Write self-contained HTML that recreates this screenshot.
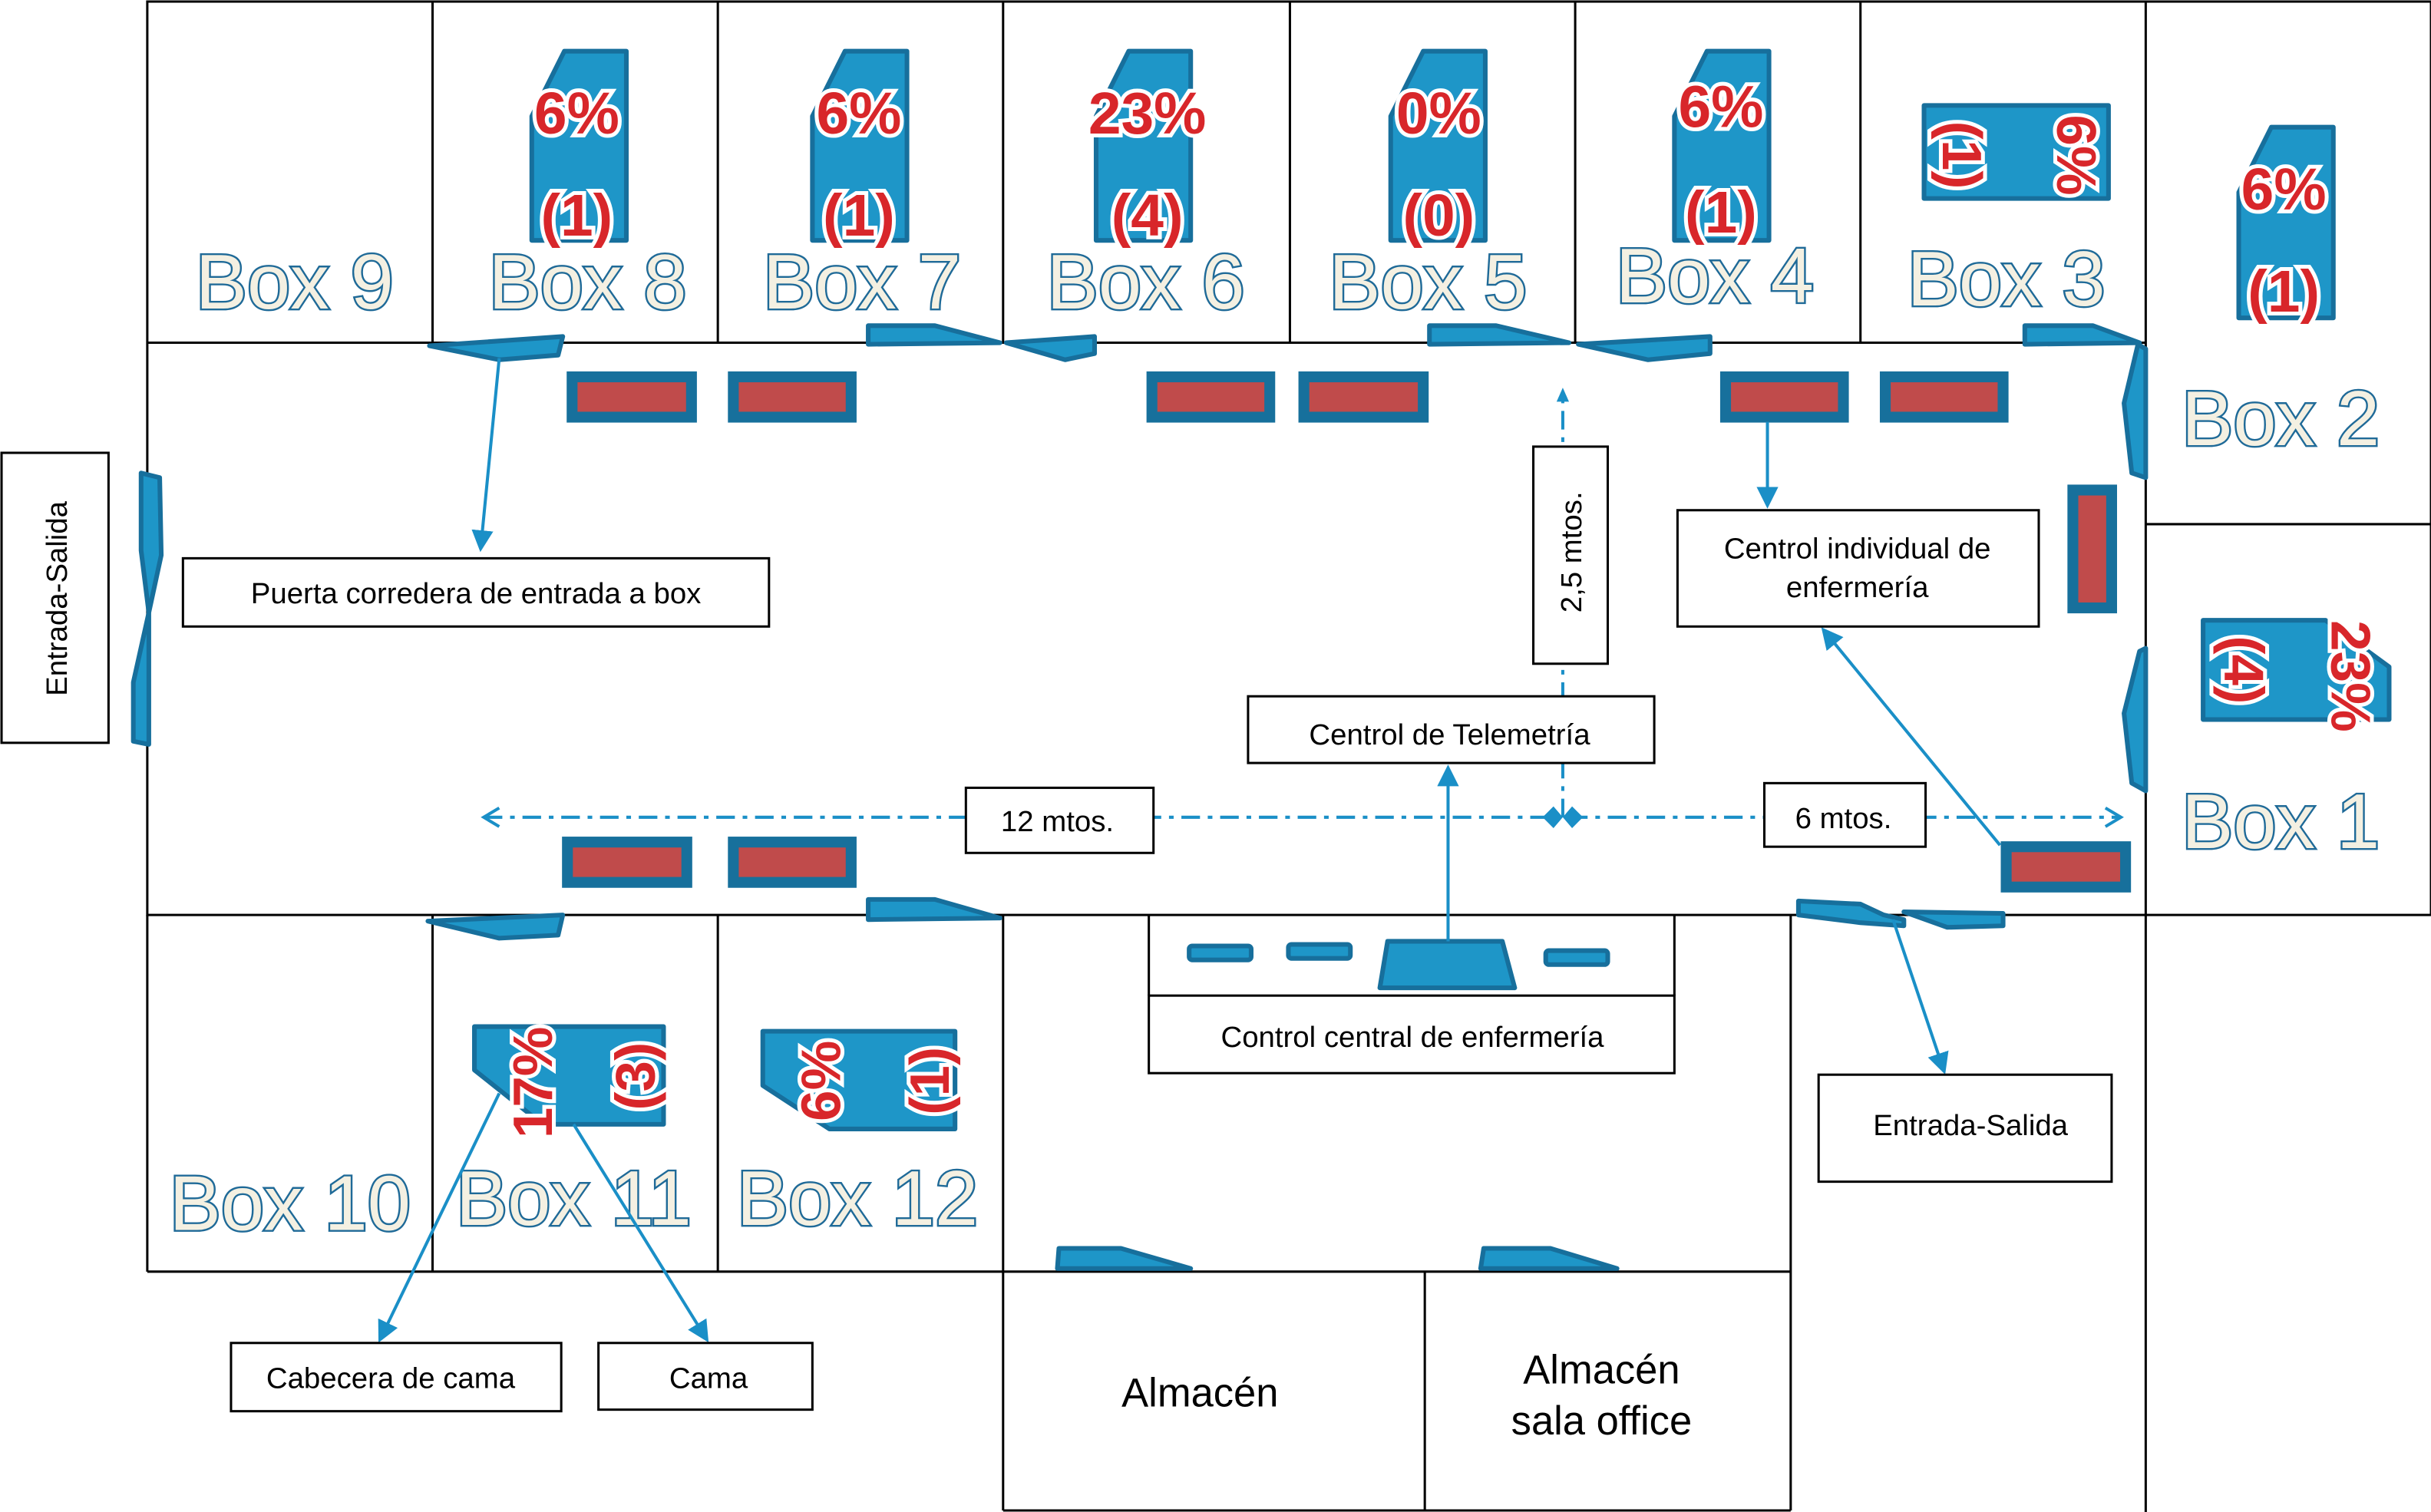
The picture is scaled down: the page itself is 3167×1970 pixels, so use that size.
<!DOCTYPE html>
<html><head><meta charset="utf-8"><style>
html,body{margin:0;padding:0;background:#fff;}
svg{display:block;}
.bx{font-family:"Liberation Sans Narrow","Liberation Sans",sans-serif;font-size:50px;fill:#f4f0e2;stroke:#1f6a98;stroke-width:2.4px;paint-order:stroke;text-anchor:middle;}
.pc{font-family:"Liberation Sans",sans-serif;font-weight:bold;font-size:38px;fill:#d8262a;stroke:#fff;stroke-width:5px;paint-order:stroke;text-anchor:middle;}
.lb{font-family:"Liberation Sans",sans-serif;font-size:19px;fill:#000;text-anchor:middle;}
.bed{fill:#1e96c8;stroke:#176f9c;stroke-width:3;stroke-linejoin:round;}
.door{fill:#1e96c8;stroke:#176f9c;stroke-width:3;stroke-linejoin:round;}
.mon{fill:#c04b4b;stroke:#17709c;stroke-width:7;}
.ln{stroke:#000;stroke-width:1.5;fill:none;}
.ar{stroke:#1a8fc7;stroke-width:2;fill:none;}
</style></head><body>
<svg width="3167" height="1970" viewBox="0 0 1568 975" preserveAspectRatio="none" xmlns="http://www.w3.org/2000/svg">
<defs><marker id="ah" markerWidth="10" markerHeight="10" refX="8" refY="5" orient="auto" markerUnits="userSpaceOnUse" viewBox="0 0 10 10"><path d="M0,0 L10,5 L0,10 Z" fill="#1a8fc7"/></marker>
<marker id="ah2" markerWidth="14" markerHeight="14" refX="12" refY="7" orient="auto" markerUnits="userSpaceOnUse"><path d="M0,0 L14,7 L0,14 Z" fill="#1a8fc7"/></marker>
<marker id="ao" markerWidth="12" markerHeight="12" refX="10" refY="6" orient="auto" markerUnits="userSpaceOnUse"><path d="M0,0 L10,6 L0,12" stroke="#1a8fc7" stroke-width="2" fill="none"/></marker></defs>

<g class="ln">
<rect x="95" y="1" width="1473" height="589"/>
<line x1="95" y1="221" x2="1384" y2="221"/>
<line x1="279" y1="1" x2="279" y2="221"/><line x1="463" y1="1" x2="463" y2="221"/><line x1="647" y1="1" x2="647" y2="221"/><line x1="832" y1="1" x2="832" y2="221"/><line x1="1016" y1="1" x2="1016" y2="221"/><line x1="1200" y1="1" x2="1200" y2="221"/>
<line x1="1384" y1="1" x2="1384" y2="975"/>
<line x1="1384" y1="338" x2="1568" y2="338"/>
<line x1="95" y1="590" x2="95" y2="820"/><line x1="279" y1="590" x2="279" y2="820"/><line x1="463" y1="590" x2="463" y2="820"/><line x1="647" y1="590" x2="647" y2="974"/>
<line x1="95" y1="820" x2="1155" y2="820"/>
<line x1="919" y1="820" x2="919" y2="974"/>
<line x1="1155" y1="590" x2="1155" y2="974"/>
<line x1="647" y1="974" x2="1155" y2="974"/>
<line x1="741" y1="590" x2="741" y2="642"/><line x1="1080" y1="590" x2="1080" y2="642"/>
</g>

<g class="bed">
<polygon points="364,33 404,33 404,155 343,155 343,75"/>
<polygon points="545,33 585,33 585,155 524,155 524,75"/>
<polygon points="728,33 768,33 768,155 707,155 707,75"/>
<polygon points="918,33 958,33 958,155 897,155 897,75"/>
<polygon points="1101,33 1141,33 1141,155 1080,155 1080,75"/>
<polygon points="1241,68 1360,68 1360,128 1241,128"/>
<polygon points="1465,82 1505,82 1505,205 1444,205 1444,124"/>
<polygon points="1421,400 1500,400 1541,430 1541,464 1421,464"/>
<polygon points="306,662 428,662 428,725 350,725 306,690"/>
<polygon points="492,665 616,665 616,728 535,728 492,700"/>
</g>

<g class="pc">
<text x="372" y="86">6%</text><text x="372" y="152">(1)</text>
<text x="554" y="86">6%</text><text x="554" y="152">(1)</text>
<text x="740" y="86">23%</text><text x="740" y="152">(4)</text>
<text x="928" y="86">0%</text><text x="928" y="152">(0)</text>
<text x="1110" y="82">6%</text><text x="1110" y="150">(1)</text>
<text x="1473" y="135">6%</text><text x="1473" y="201">(1)</text>
<text transform="translate(1253,100) rotate(90)" style="font-size:36px">(1)</text>
<text transform="translate(1327,100) rotate(90)" style="font-size:36px">6%</text>
<text transform="translate(1435,432) rotate(90)" style="font-size:36px">(4)</text>
<text transform="translate(1504,436) rotate(90)" style="font-size:36px">23%</text>
<text transform="translate(356,698) rotate(-90)" style="font-size:36px">17%</text>
<text transform="translate(422,694) rotate(-90)" style="font-size:36px">(3)</text>
<text transform="translate(542,697) rotate(-90)" style="font-size:36px">6%</text>
<text transform="translate(612,697) rotate(-90)" style="font-size:36px">(1)</text>
</g>

<g class="bx">
<text x="190" y="199">Box 9</text><text x="379" y="199">Box 8</text><text x="556" y="199">Box 7</text><text x="739" y="199">Box 6</text><text x="921" y="199">Box 5</text><text x="1106" y="195">Box 4</text><text x="1294" y="197">Box 3</text>
<text x="1471" y="287">Box 2</text><text x="1471" y="547">Box 1</text>
<text x="187" y="793">Box 10</text><text x="370" y="790">Box 11</text><text x="553" y="790">Box 12</text>
</g>

<g class="door">
<polygon points="277,223 363,217 360,229 322,232"/>
<polygon points="560,210 603,210 645,221 560,222"/>
<polygon points="649,221 706,217 706,228 687,232"/>
<polygon points="922,210 965,210 1012,221 922,222"/>
<polygon points="1018,222 1103,217 1103,228 1063,232"/>
<polygon points="1306,210 1350,210 1380,221 1306,222"/>
<polygon points="1379,222 1384,225 1384,308 1375,305 1370,260"/>
<polygon points="91,305 103,308 104,358 96,395 91,355"/>
<polygon points="96,395 96,480 86,478 86,440"/>
<polygon points="1380,420 1384,418 1384,510 1375,505 1370,460"/>
<polygon points="276,594 363,590 360,603 322,605"/>
<polygon points="560,580 603,580 645,592 560,593"/>
<polygon points="1160,581 1200,583 1215,590 1228,593 1228,597 1200,595 1160,590"/>
<polygon points="1228,588 1292,589 1292,597 1256,598"/>
<polygon points="683,805 723,805 768,818 682,818"/>
<polygon points="957,805 1000,805 1043,818 955,818"/>
<polygon points="895,607 969,607 977,637 890,637"/>
</g>
<g fill="#1e96c8" stroke="#176f9c" stroke-width="3">
<rect x="767" y="610" width="40" height="9" rx="2"/><rect x="831" y="609" width="40" height="9" rx="2"/><rect x="997" y="613" width="40" height="9" rx="2"/>
</g>

<g class="mon">
<rect x="369" y="243" width="77" height="26"/><rect x="473" y="243" width="76" height="26"/>
<rect x="743" y="243" width="76" height="26"/><rect x="841" y="243" width="77" height="26"/>
<rect x="1113" y="243" width="76" height="26"/><rect x="1216" y="243" width="76" height="26"/>
<rect x="1337" y="316" width="25" height="76"/>
<rect x="366" y="543" width="77" height="26"/><rect x="473" y="543" width="76" height="26"/>
<rect x="1294" y="546" width="77" height="26"/>
</g>

<g stroke="#1a8fc7" stroke-width="2" fill="none">
<path d="M312,527 H1368" stroke-dasharray="12,5,3,5"/>
<path d="M1008,527 V256" stroke-dasharray="12,5,3,5"/>
<path d="M322,521 L312,527 L322,533"/>
<path d="M1358,521 L1368,527 L1358,533"/>
</g>
<polygon points="1008,250 1004,259 1012,259" fill="#1a8fc7"/>
<polygon points="995,527 1002,520 1008,527 1014,520 1021,527 1014,534 1008,527 1002,534" fill="#1a8fc7"/>

<g class="ar">
<line x1="322" y1="231" x2="310" y2="354" marker-end="url(#ah2)"/>
<line x1="1140" y1="272" x2="1140" y2="326" marker-end="url(#ah2)"/>
<line x1="1290" y1="545" x2="1176" y2="406" marker-end="url(#ah2)"/>
<line x1="934" y1="607" x2="934" y2="495" marker-end="url(#ah2)"/>
<line x1="1221" y1="593" x2="1254" y2="691" marker-end="url(#ah2)"/>
<line x1="322" y1="705" x2="245" y2="864" marker-end="url(#ah2)"/>
<line x1="370" y1="725" x2="456" y2="864" marker-end="url(#ah2)"/>
</g>

<g fill="#fff" stroke="#000" stroke-width="1.5">
<rect x="1" y="292" width="69" height="187"/>
<rect x="118" y="360" width="378" height="44"/>
<rect x="1082" y="329" width="233" height="75"/>
<rect x="989" y="288" width="48" height="140"/>
<rect x="805" y="449" width="262" height="43"/>
<rect x="623" y="508" width="121" height="42"/>
<rect x="1138" y="505" width="104" height="41"/>
<rect x="741" y="642" width="339" height="50"/>
<rect x="1173" y="693" width="189" height="69"/>
<rect x="149" y="866" width="213" height="44"/>
<rect x="386" y="866" width="138" height="43"/>
</g>
<g class="lb">
<text transform="translate(43,386) rotate(-90)">Entrada-Salida</text>
<text x="307" y="389">Puerta corredera de entrada a box</text>
<text x="1198" y="360">Centrol individual de</text>
<text x="1198" y="385">enfermería</text>
<text transform="translate(1020,356) rotate(-90)">2,5 mtos.</text>
<text x="935" y="480">Centrol de Telemetría</text>
<text x="682" y="536">12 mtos.</text>
<text x="1189" y="534">6 mtos.</text>
<text x="911" y="675">Control central de enfermería</text>
<text x="1271" y="732">Entrada-Salida</text>
<text x="252" y="895">Cabecera de cama</text>
<text x="457" y="895">Cama</text>
<text x="774" y="907" style="font-size:26px">Almacén</text>
<text x="1033" y="892" style="font-size:26px">Almacén</text>
<text x="1033" y="925" style="font-size:26px">sala office</text>
</g>
</svg>
</body></html>
